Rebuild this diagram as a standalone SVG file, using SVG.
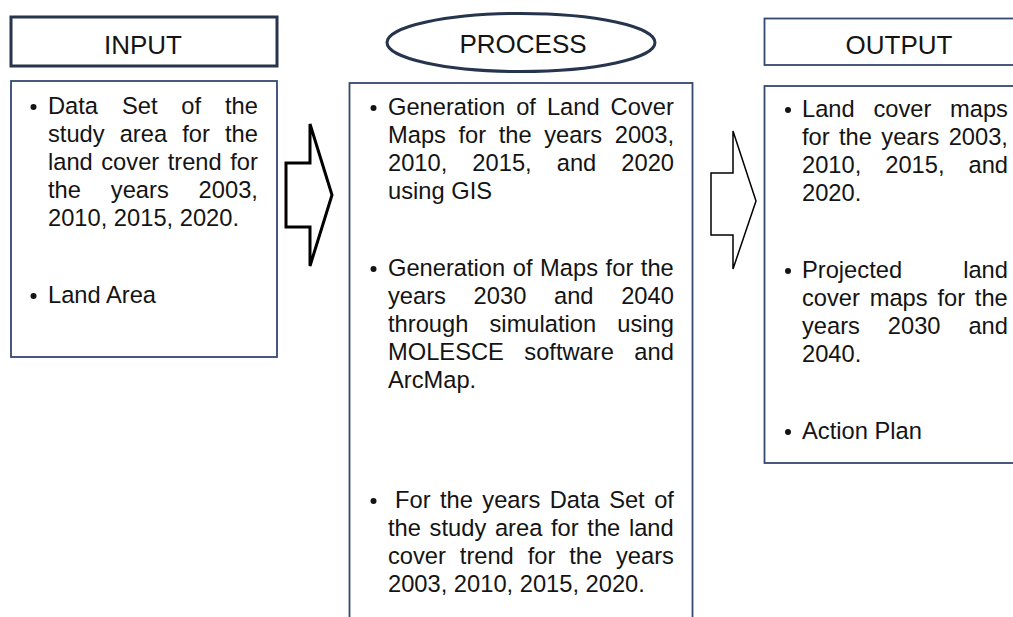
<svg xmlns="http://www.w3.org/2000/svg" width="1013" height="617" viewBox="0 0 1013 617">
  <style>
    .hdr { fill: #ffffff; stroke: #26354d; stroke-width: 3; }
    .hdr-thin { fill: #ffffff; stroke: #34496f; stroke-width: 1.8; }
    .body { fill: #ffffff; stroke: #34496f; stroke-width: 1.8; }
    .title { font-family: "Liberation Sans", Arial, sans-serif; font-size: 26px; fill: #141414; text-anchor: middle; }
    .txt { font-family: "Liberation Sans", Arial, sans-serif; font-size: 23.7px; fill: #141414; }
    .dot { fill: #141414; }
    .arrow-bold { fill: #ffffff; stroke: #000000; stroke-width: 3; stroke-linejoin: miter; }
    .arrow-thin { fill: #ffffff; stroke: #000000; stroke-width: 1.5; stroke-linejoin: miter; }
  </style>
  <rect width="1013" height="617" fill="#ffffff"/>

  <!-- INPUT column -->
  <g id="input-header">
    <rect class="hdr" x="11" y="17" width="266" height="49"/>
    <text class="title" x="143" y="54">INPUT</text>
  </g>
  <g id="input-body">
    <rect class="body" x="11" y="81" width="266" height="276"/>
    <circle class="dot" cx="33.5" cy="107" r="3"/>
    <text class="txt" x="48" y="114" style="word-spacing:17.3px">Data Set of the</text>
    <text class="txt" x="48" y="142" style="word-spacing:8.5px">study area for the</text>
    <text class="txt" x="48" y="170" style="word-spacing:1.9px">land cover trend for</text>
    <text class="txt" x="48" y="198" style="word-spacing:23.3px">the years 2003,</text>
    <text class="txt" x="48" y="226">2010, 2015, 2020.</text>
    <circle class="dot" cx="33.5" cy="296" r="3"/>
    <text class="txt" x="48" y="303">Land Area</text>
  </g>

  <!-- PROCESS column -->
  <g id="process-header">
    <ellipse class="hdr" cx="521" cy="42.5" rx="134" ry="29"/>
    <text class="title" x="523" y="53">PROCESS</text>
  </g>
  <g id="process-body">
    <rect class="body" x="349.5" y="83" width="343" height="560"/>
    <circle class="dot" cx="373.5" cy="108" r="3"/>
    <text class="txt" x="388" y="115" style="word-spacing:4.4px">Generation of Land Cover</text>
    <text class="txt" x="388" y="143" style="word-spacing:6px">Maps for the years 2003,</text>
    <text class="txt" x="388" y="171" style="word-spacing:18.5px">2010, 2015, and 2020</text>
    <text class="txt" x="388" y="199">using GIS</text>

    <circle class="dot" cx="373.5" cy="269" r="3"/>
    <text class="txt" x="388" y="276" style="word-spacing:1px">Generation of Maps for the</text>
    <text class="txt" x="388" y="304" style="word-spacing:21.1px">years 2030 and 2040</text>
    <text class="txt" x="388" y="332" style="word-spacing:14.6px">through simulation using</text>
    <text class="txt" x="388" y="360" style="word-spacing:13.9px">MOLESCE software and</text>
    <text class="txt" x="388" y="388">ArcMap.</text>

    <circle class="dot" cx="373.5" cy="501" r="3"/>
    <text class="txt" x="395" y="508" style="word-spacing:2.85px">For the years Data Set of</text>
    <text class="txt" x="388" y="536" style="word-spacing:2.1px">the study area for the land</text>
    <text class="txt" x="388" y="564" style="word-spacing:7.3px">cover trend for the years</text>
    <text class="txt" x="388" y="592">2003, 2010, 2015, 2020.</text>
  </g>

  <!-- OUTPUT column -->
  <g id="output-header">
    <rect class="hdr-thin" x="764.5" y="18.5" width="270" height="46.5"/>
    <text class="title" x="899" y="54">OUTPUT</text>
  </g>
  <g id="output-body">
    <rect class="body" x="764.5" y="86" width="270" height="377"/>
    <circle class="dot" cx="788" cy="110" r="3"/>
    <text class="txt" x="802" y="117" style="word-spacing:12.1px">Land cover maps</text>
    <text class="txt" x="802" y="145" style="word-spacing:2.8px">for the years 2003,</text>
    <text class="txt" x="802" y="173" style="word-spacing:17.4px">2010, 2015, and</text>
    <text class="txt" x="802" y="201">2020.</text>

    <circle class="dot" cx="788" cy="271" r="3"/>
    <text class="txt" x="802" y="278" style="word-spacing:54.5px">Projected land</text>
    <text class="txt" x="802" y="306" style="word-spacing:3.2px">cover maps for the</text>
    <text class="txt" x="802" y="334" style="word-spacing:21.3px">years 2030 and</text>
    <text class="txt" x="802" y="362">2040.</text>

    <circle class="dot" cx="788" cy="432" r="3"/>
    <text class="txt" x="802" y="439">Action Plan</text>
  </g>

  <!-- block arrows between the columns -->
  <g id="connectors">
    <path class="arrow-bold" d="M286,163 L310,163 L310,124 L332,195 L310,266 L310,227 L286,227 Z"/>
    <path class="arrow-thin" d="M711,173 L733,173 L733,131 L756,201 L733,269 L733,235 L711,235 Z"/>
  </g>
</svg>
